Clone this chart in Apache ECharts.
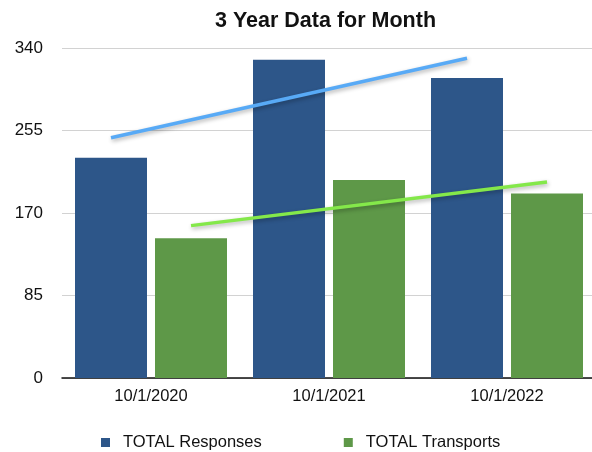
<!DOCTYPE html>
<html>
<head>
<meta charset="utf-8">
<script src="https://cdn.jsdelivr.net/npm/echarts@6/dist/echarts.min.js"></script>
<style>html,body{margin:0;padding:0;background:#fff}#c{width:592px;height:452px}</style>
</head>
<body>
<div id="c"></div>
<script>
const categories = ['10/1/2020', '10/1/2021', '10/1/2022'];
const responses = [227, 328, 309];
const transports = [144, 204, 190];
const trendResponses = [247.5, 329.5];
const trendTransports = [157, 202];
const yTicks = [0, 85, 170, 255, 340];

const font = '"Liberation Sans", Arial, Helvetica, sans-serif';
const gridLeft = 62, gridWidth = 534;
const barW = 72, barGapPx = 8;
const catW = gridWidth / categories.length;
const off = (barW + barGapPx) / 2 / catW;
const last = categories.length - 1;

const chart = echarts.init(document.getElementById('c'), null, {renderer: 'canvas'});
const lineStyleBase = {width: 3.5, shadowColor: 'rgba(0,0,0,0.3)', shadowBlur: 4, shadowOffsetY: 2, shadowOffsetX: 1};
chart.setOption({
  animation: false,
  backgroundColor: '#ffffff',
  title: {
    text: '3 Year Data for Month',
    left: 210, top: 5,
    textStyle: {fontFamily: font, fontSize: 21.5, fontWeight: 'bold', color: '#111'}
  },
  legend: {
    left: 96, top: 429,
    itemWidth: 9, itemHeight: 9, itemGap: 82,
    icon: 'rect',
    data: ['TOTAL Responses', 'TOTAL Transports'],
    textStyle: {fontFamily: font, fontSize: 16.5, color: '#111', padding: [0, 0, 0, 8]}
  },
  grid: {left: gridLeft, width: gridWidth, top: 48, bottom: 74, containLabel: false, outerBoundsMode: 'none'},
  xAxis: [{
    type: 'category', data: categories,
    axisLine: {lineStyle: {color: '#111', width: 1.5}},
    axisTick: {show: false},
    axisLabel: {fontFamily: font, fontSize: 16.5, color: '#111', margin: 10}
  }, {
    type: 'value', min: -0.5, max: last + 0.5, show: false
  }],
  yAxis: {
    type: 'value', min: yTicks[0], max: yTicks[yTicks.length - 1], interval: yTicks[1] - yTicks[0],
    axisLine: {show: false}, axisTick: {show: false},
    axisLabel: {fontFamily: font, fontSize: 17, color: '#111', margin: 19},
    splitLine: {lineStyle: {color: '#d2d2d2', width: 1.2}}
  },
  series: [
    {name: 'TOTAL Responses', type: 'bar', data: responses, barWidth: barW, barGap: (barGapPx / barW * 100) + '%', itemStyle: {color: '#2d5689'}},
    {name: 'TOTAL Transports', type: 'bar', data: transports, barWidth: barW, itemStyle: {color: '#5e9848'}},
    {type: 'line', xAxisIndex: 1, symbol: 'none', silent: true,
     data: [[0 - off, trendResponses[0]], [last - off, trendResponses[1]]],
     lineStyle: Object.assign({color: '#58aaf6'}, lineStyleBase)},
    {type: 'line', xAxisIndex: 1, symbol: 'none', silent: true,
     data: [[0 + off, trendTransports[0]], [last + off, trendTransports[1]]],
     lineStyle: Object.assign({color: '#84e84a'}, lineStyleBase)}
  ]
});
</script>
</body>
</html>
